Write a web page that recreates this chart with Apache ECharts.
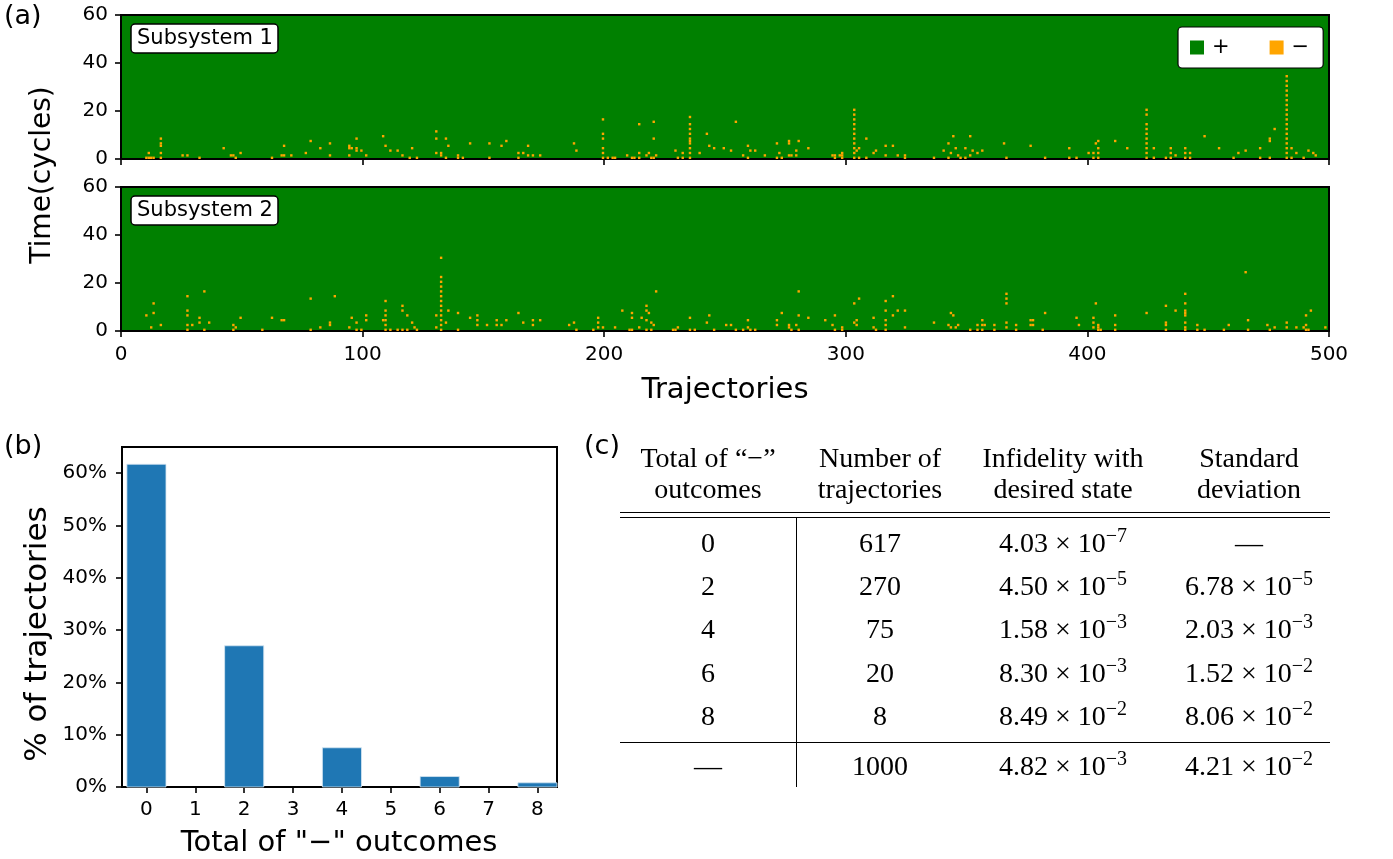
<!DOCTYPE html>
<html>
<head>
<meta charset="utf-8">
<script src="https://cdn.jsdelivr.net/npm/echarts@6/dist/echarts.min.js"></script>
<style>
  html, body { margin: 0; padding: 0; background: #fff; }
  #chart { width: 1393px; height: 859px; }
</style>
</head>
<body>
<div id="chart"></div>
<script>
// ---- panel (a): "−" outcomes, [trajectory, cycle] ----
const trajectoryRange = [0, 500];
const cycleRange = [0, 60];
const sub1Minus = [
  [10,0],[11,0],[11,2],[12,0],[13,0],[16,8],[16,5],[16,6],[16,2],[16,0],[25,1],[27,1],[32,0],[42,4],[45,1],[46,1],[47,0],[49,2],
  [62,0],[66,1],[67,1],[67,5],[70,1],[76,2],[78,7],[82,4],[86,6],[86,1],[94,5],[94,4],[95,4],[94,1],[97,8],[97,3],[97,4],[99,3],
  [101,1],[108,9],[109,5],[111,3],[114,3],[116,1],[120,4],[119,0],[122,0],
  [130,11],[130,8],[130,2],[132,1],[132,2],[134,8],[134,0],[135,5],[139,0],[139,1],[141,0],[144,6],[152,6],[152,0],[157,5],[159,7],
  [164,2],[164,0],[166,2],[168,5],[168,1],[170,1],[173,1],[187,6],[188,3],
  [199,16],[199,10],[199,8],[199,4],[199,2],[199,0],[201,0],[203,0],[204,0],[209,1],[211,0],[212,0],[214,14],[214,2],[214,0],
  [217,1],[218,2],[219,0],[220,0],[220,15],[220,8],[221,1],[229,3],[230,0],[232,2],[232,0],
  [235,17],[235,14],[235,12],[235,10],[235,8],[235,7],[235,6],[235,4],[235,2],[235,0],[239,2],[242,10],[243,5],[245,4],[249,4],
  [252,3],[254,15],[257,1],[259,5],[259,0],[260,3],[262,3],[266,1],[271,6],[271,0],[272,2],[273,0],[276,6],[276,7],[276,1],[277,1],
  [279,3],[279,1],[280,7],[284,4],[294,1],[295,1],[295,0],[297,1],[298,0],[298,1],[298,2],
  [303,20],[303,18],[303,16],[303,14],[303,12],[303,10],[303,8],[303,6],[303,4],[303,2],[303,0],[304,3],[305,4],[305,0],[308,8],[308,0],
  [311,2],[312,3],[316,5],[316,1],[319,5],[321,1],[324,0],[324,1],[336,0],[340,3],[342,6],[342,0],[343,2],[344,9],[345,4],[346,1],
  [347,0],[349,4],[349,0],[351,9],[351,1],[352,3],[354,2],[356,3],[365,6],[366,0],[376,5],
  [382,0],[392,4],[392,0],[395,0],[400,2],[402,2],[402,0],[403,6],[404,7],[404,4],[404,2],[404,0],[411,7],[416,4],
  [424,20],[424,18],[424,14],[424,12],[424,10],[424,8],[424,6],[424,4],[424,2],[424,0],[427,4],[427,0],[432,0],[434,4],[434,2],[434,0],
  [436,1],[440,4],[440,2],[440,0],[442,2],[442,0],[448,9],[454,4],[460,0],[462,2],[465,3],[471,4],[471,0],[475,7],[475,8],[475,0],[477,12],
  [482,34],[482,32],[482,30],[482,28],[482,26],[482,24],[482,22],[482,20],[482,18],[482,16],[482,14],[482,12],[482,10],[482,8],[482,6],
  [482,4],[482,2],[482,0],[484,4],[484,0],[486,2],[489,0],[491,3],[493,2],[494,1]
];
const sub2Minus = [
  [10,6],[12,1],[13,11],[13,7],[16,2],[27,14],[27,8],[27,6],[27,2],[27,0],[29,2],[32,5],[32,3],[34,16],[34,0],[36,3],[46,2],[46,0],
  [47,1],[49,5],[58,0],[62,5],[66,4],[67,4],[78,13],[78,0],[82,1],[86,2],[86,3],[88,14],[94,1],[95,5],[97,3],[97,0],[99,0],[101,6],
  [101,4],[108,4],[109,4],[109,12],[109,8],[109,6],[109,2],[109,0],[111,0],[114,0],[116,10],[116,8],[116,0],[118,6],[118,0],[120,3],
  [121,1],[122,0],
  [130,6],[130,1],[132,30],[132,22],[132,20],[132,18],[132,16],[132,14],[132,12],[132,10],[132,8],[132,6],[132,4],[132,2],[132,0],
  [134,3],[135,8],[139,7],[139,0],[144,5],[147,6],[147,4],[147,2],[151,2],[155,4],[155,2],[157,2],[159,4],[164,7],[166,3],[170,4],
  [170,2],[173,4],[185,2],[187,3],[188,0],[195,0],[197,5],[197,3],[197,1],[199,1],[204,1],[207,8],[210,0],[211,0],[211,7],[211,5],
  [214,1],[215,5],[217,10],[217,8],[217,4],[217,0],[218,7],[219,3],[219,0],[220,2],[221,16],[228,0],[229,0],[230,1],[235,5],[235,0],
  [237,0],[242,3],[243,6],[245,0],[250,2],
  [252,2],[254,0],[257,0],[259,4],[259,1],[260,0],[262,0],[271,4],[271,2],[273,7],[276,1],[276,2],[277,0],[279,2],[280,16],[280,6],
  [280,0],[284,5],[291,4],[294,2],[295,6],[295,0],[298,0],[298,1],[303,11],[303,3],[304,4],[304,2],[305,13],[311,5],[311,1],[312,0],
  [316,12],[316,8],[316,4],[316,2],[316,0],[319,14],[319,6],[321,8],[324,8],[324,1],[336,3],[342,2],[343,7],[343,1],[344,6],[345,1],
  [346,2],[351,0],[354,2],[354,0],[356,4],[356,0],[356,2],[357,2],[361,2],[361,0],[366,15],[366,13],[366,11],[366,3],[366,1],[370,2],
  [370,0],[376,4],[376,2],[377,4],[377,2],
  [381,0],[382,7],[395,5],[396,2],[402,5],[402,3],[402,1],[403,11],[404,0],[404,1],[404,2],[405,0],[411,6],[411,2],[411,0],[424,7],
  [432,10],[432,2],[432,3],[432,0],[436,8],[440,15],[440,11],[440,6],[440,7],[440,8],[440,3],[440,0],[440,1],[445,2],[445,0],[448,0],
  [456,0],[458,2],[465,24],[466,4],[466,0],[474,2],[475,0],[477,1],[482,3],[482,1],[486,1],[489,1],[490,6],[490,2],[490,0],[491,0],
  [492,8],[498,1]
];

// ---- panel (b): distribution of "−" totals ----
const outcomeTotals = [0, 1, 2, 3, 4, 5, 6, 7, 8];
const trajectoryCounts = [617, 0, 270, 0, 75, 0, 20, 0, 8];
const percentTicks = [0, 10, 20, 30, 40, 50, 60];

// ---- panel (c): summary table ----
const tableHeaders = ['Total of “−”\noutcomes', 'Number of\ntrajectories', 'Infidelity with\ndesired state', 'Standard\ndeviation'];
const tableOutcomeLabels = ['0', '2', '4', '6', '8', '—'];
const tableCounts = [617, 270, 75, 20, 8, 1000];
const infidelityMantissa = ['4.03', '4.50', '1.58', '8.30', '8.49', '4.82'];
const infidelityExponent = [-7, -5, -3, -3, -2, -3];
const stdMantissa = [null, '6.78', '2.03', '1.52', '8.06', '4.21'];
const stdExponent = [null, -5, -3, -2, -2, -2];

const totalTrajectories = tableCounts[tableCounts.length - 1];
const barData = outcomeTotals.map((k, i) => [k, trajectoryCounts[i] / totalTrajectories * 100]);

const SANS = 'DejaVu Sans';
const SERIF = 'Liberation Serif';
const GREEN = '#008000';
const ORANGE = '#ffa500';

const chart = echarts.init(document.getElementById('chart'), null, { renderer: 'canvas' });

// one grid cell per (trajectory, cycle) pair
function cellItem(params, api) {
  const i = api.value(0), t = api.value(1);
  const a = api.coord([i, t]);
  const b = api.coord([i + 1, t + 1]);
  return {
    type: 'rect',
    shape: { x: a[0], y: b[1], width: b[0] - a[0], height: a[1] - b[1] },
    style: { fill: ORANGE }
  };
}

// histogram bars, 0.8 wide, centred on each total
function barItem(params, api) {
  const x = api.value(0), v = api.value(1);
  if (!v) return null;
  const a = api.coord([x - 0.4, v]);
  const b = api.coord([x + 0.4, 0]);
  return {
    type: 'rect',
    shape: { x: a[0], y: a[1], width: b[0] - a[0], height: b[1] - a[1] },
    style: { fill: '#1f77b4', stroke: '#d6e6f3', lineWidth: 0.8 }
  };
}

const tickLabel = { fontFamily: SANS, fontSize: 20, color: '#000' };
const axisLine = { show: true, onZero: false, lineStyle: { color: '#000', width: 2 } };
const axisTick = { show: true, inside: false, length: 6, lineStyle: { color: '#000', width: 1.6 } };

function trajAxis(grid, showLabels) {
  return {
    type: 'value', gridIndex: grid, min: trajectoryRange[0], max: trajectoryRange[1], interval: 100,
    axisLine, axisTick, splitLine: { show: false },
    axisLabel: Object.assign({ show: showLabels, margin: 14 }, tickLabel)
  };
}
function cycleAxis(grid) {
  return {
    type: 'value', gridIndex: grid, min: cycleRange[0], max: cycleRange[1], interval: 20,
    axisLine, axisTick, splitLine: { show: false },
    axisLabel: Object.assign({ margin: 13 }, tickLabel)
  };
}

// table helpers
const colX = [708, 880, 1063, 1249];
const rowY = [543, 586, 629, 673, 716, 766];
const tableRich = {
  m: { fontFamily: SERIF, fontSize: 28, lineHeight: 32, verticalAlign: 'bottom', color: '#000' },
  s: { fontFamily: SERIF, fontSize: 20, lineHeight: 8, verticalAlign: 'top', color: '#000' }
};
function sci(m, e) {
  return '{m|' + m + ' × 10}{s|' + (e < 0 ? '−' + (-e) : e) + '}';
}
function cell(x, y, content) {
  return {
    type: 'text', x: x, y: y,
    style: { text: content, rich: tableRich, align: 'center', verticalAlign: 'middle' }
  };
}
const tableGraphics = [];
tableHeaders.forEach((h, c) => {
  tableGraphics.push({
    type: 'text', x: colX[c], y: 475,
    style: { text: h, fontFamily: SERIF, fontSize: 28, lineHeight: 31, align: 'center', verticalAlign: 'middle', fill: '#000' }
  });
});
tableOutcomeLabels.forEach((lab, r) => {
  tableGraphics.push(cell(colX[0], rowY[r], '{m|' + lab + '}'));
  tableGraphics.push(cell(colX[1], rowY[r], '{m|' + tableCounts[r] + '}'));
  tableGraphics.push(cell(colX[2], rowY[r], sci(infidelityMantissa[r], infidelityExponent[r])));
  tableGraphics.push(cell(colX[3], rowY[r], stdMantissa[r] === null ? '{m|—}' : sci(stdMantissa[r], stdExponent[r])));
});
const rule = (x1, y1, x2, y2) => ({ type: 'line', shape: { x1, y1, x2, y2 }, style: { stroke: '#000', lineWidth: 1 } });
tableGraphics.push(rule(620, 512.5, 1330, 512.5));
tableGraphics.push(rule(620, 517.5, 1330, 517.5));
tableGraphics.push(rule(620, 742.5, 1330, 742.5));
tableGraphics.push(rule(796.5, 518, 796.5, 787));

function subsystemBox(y, label) {
  return {
    type: 'group', x: 131, y: y,
    children: [
      { type: 'rect', shape: { x: 0, y: 0, width: 147, height: 29, r: 4 }, style: { fill: '#fff', stroke: '#000', lineWidth: 1.5 } },
      { type: 'text', x: 6, y: 15, style: { text: label, fontFamily: SANS, fontSize: 21, fill: '#000', verticalAlign: 'middle' } }
    ]
  };
}

const option = {
  animation: false,
  backgroundColor: '#fff',
  grid: [
    { left: 121, top: 15, width: 1208, height: 144, show: true, backgroundColor: GREEN, borderColor: '#000', borderWidth: 2 },
    { left: 121, top: 187, width: 1208, height: 144, show: true, backgroundColor: GREEN, borderColor: '#000', borderWidth: 2 },
    { left: 122, top: 447, width: 435, height: 340, show: true, backgroundColor: '#fff', borderColor: '#000', borderWidth: 2 }
  ],
  xAxis: [
    trajAxis(0, false),
    trajAxis(1, true),
    {
      type: 'value', gridIndex: 2, min: -0.5, max: 8.4,
      axisLine, splitLine: { show: false },
      axisTick: Object.assign({ customValues: outcomeTotals }, axisTick),
      axisLabel: Object.assign({ customValues: outcomeTotals, margin: 13 }, tickLabel)
    }
  ],
  yAxis: [
    cycleAxis(0),
    cycleAxis(1),
    {
      type: 'value', gridIndex: 2, min: 0, max: 65,
      axisLine, splitLine: { show: false },
      axisTick: Object.assign({ customValues: percentTicks }, axisTick),
      axisLabel: Object.assign({ customValues: percentTicks, margin: 15, formatter: '{value}%' }, tickLabel)
    }
  ],
  legend: {
    data: ['+', '−'], left: 1178, top: 27, orient: 'horizontal',
    padding: [10, 14, 10, 12], itemWidth: 14, itemHeight: 14, itemGap: 40,
    backgroundColor: '#fff', borderColor: '#000', borderWidth: 1.2, borderRadius: 4,
    selectedMode: false, icon: 'rect',
    textStyle: { fontFamily: SANS, fontSize: 21, color: '#000', padding: [0, 0, 0, 3] }
  },
  series: [
    { name: '+', type: 'custom', xAxisIndex: 0, yAxisIndex: 0, data: [], itemStyle: { color: GREEN }, renderItem: cellItem },
    { name: '−', type: 'custom', xAxisIndex: 0, yAxisIndex: 0, data: sub1Minus, itemStyle: { color: ORANGE }, renderItem: cellItem },
    { name: '−', type: 'custom', xAxisIndex: 1, yAxisIndex: 1, data: sub2Minus, itemStyle: { color: ORANGE }, renderItem: cellItem },
    { name: 'share', type: 'custom', xAxisIndex: 2, yAxisIndex: 2, data: barData, renderItem: barItem }
  ],
  graphic: [
    { type: 'text', left: 4, top: 3, style: { text: '(a)', fontFamily: SANS, fontSize: 27, fill: '#000' } },
    { type: 'text', left: 4, top: 433, style: { text: '(b)', fontFamily: SANS, fontSize: 27, fill: '#000' } },
    { type: 'text', left: 584, top: 433, style: { text: '(c)', fontFamily: SANS, fontSize: 27, fill: '#000' } },
    subsystemBox(24, 'Subsystem 1'),
    subsystemBox(196, 'Subsystem 2'),
    { type: 'text', x: 43, y: 175, rotation: Math.PI / 2,
      style: { text: 'Time(cycles)', fontFamily: SANS, fontSize: 28, fill: '#000', align: 'center', verticalAlign: 'middle' } },
    { type: 'text', x: 725, y: 390,
      style: { text: 'Trajectories', fontFamily: SANS, fontSize: 29, fill: '#000', align: 'center', verticalAlign: 'middle' } },
    { type: 'text', x: 38, y: 634, rotation: Math.PI / 2,
      style: { text: '% of trajectories', fontFamily: SANS, fontSize: 31, fill: '#000', align: 'center', verticalAlign: 'middle' } },
    { type: 'text', x: 339, y: 843,
      style: { text: 'Total of "−" outcomes', fontFamily: SANS, fontSize: 29, fill: '#000', align: 'center', verticalAlign: 'middle' } }
  ].concat(tableGraphics)
};

chart.setOption(option);
</script>
</body>
</html>
